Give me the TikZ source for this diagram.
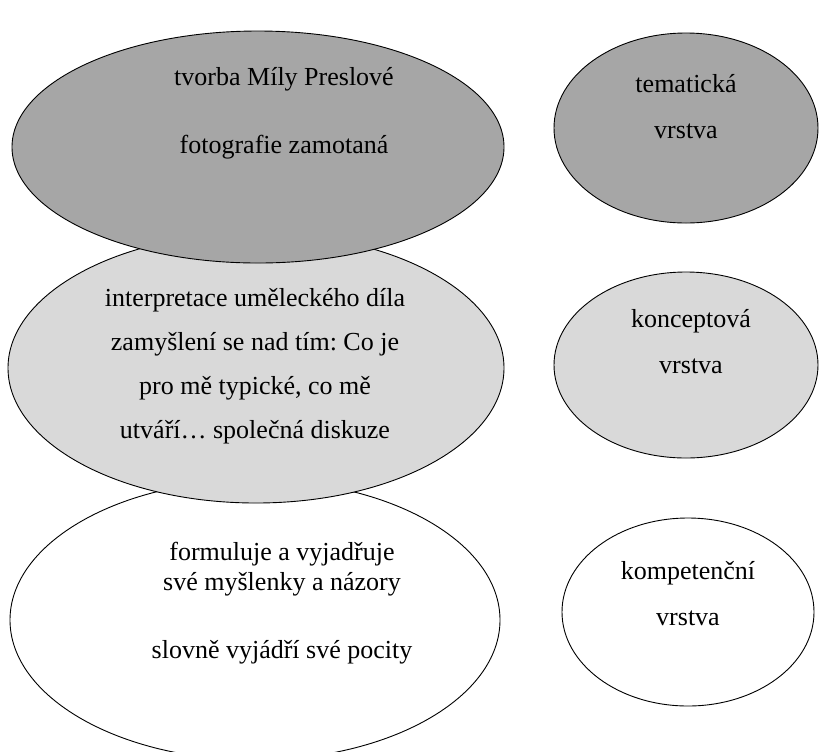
\documentclass[tikz,border=0pt]{standalone}
\usepackage{fontspec}
\setmainfont{Liberation Serif}
\usepackage{xcolor}
\usepackage{tikz}
\usetikzlibrary{shapes.geometric}
\frenchspacing
\definecolor{sedaTmava}{HTML}{A6A6A6}
\definecolor{sedaSvetla}{HTML}{D9D9D9}
\tikzset{
  vrstva/.style={
    ellipse, draw=black, line width=0.45pt, inner sep=0pt, outer sep=0pt},
  vrstvaTmava/.style={vrstva, fill=sedaTmava},
  vrstvaSvetla/.style={vrstva, fill=sedaSvetla},
  vrstvaBila/.style={vrstva, fill=white},
  popisek/.style={align=center, anchor=base, inner sep=0pt,
    font=\fontsize{13}{15}\selectfont}
}
\begin{document}
\begin{tikzpicture}[x=0.5pt, y=-0.5pt]
  \useasboundingbox (0,0) rectangle (819,751);

  % --- Levy sloupec : obsah (kresleno odspodu nahoru)
  \node[vrstvaBila,   minimum width=245pt, minimum height=140pt] (kompetence) at (255,620) {};
  \node[vrstvaSvetla, minimum width=248pt, minimum height=135pt] (koncept)    at (256,368) {};
  \node[vrstvaTmava,  minimum width=246pt, minimum height=116pt] (tema)       at (258,147) {};

  % --- Pravy sloupec : nazvy vrstev
  \node[vrstvaTmava,  minimum width=132pt, minimum height=95pt] (temaVrstva)       at (686,128) {};
  \node[vrstvaSvetla, minimum width=132pt, minimum height=93pt] (konceptVrstva)    at (686,365) {};
  \node[vrstvaBila,   minimum width=126pt, minimum height=94pt] (kompetenceVrstva) at (688,612) {};

  % --- Texty v levych elipsach (kotva = uclaret posledniho radku)
  \node[popisek, font=\fontsize{13}{34}\selectfont] (temaText) at (284,153)
        {tvorba Míly Preslové\\fotografie zamotaná};
  \node[popisek, font=\fontsize{13}{22}\selectfont] (konceptText) at (255,438)
        {interpretace uměleckého díla\\zamyšlení se nad tím: Co je\\pro mě typické, co mě\\utváří… společná diskuze};
  \node[popisek] (kompetenceText) at (282,658)
        {formuluje a vyjadřuje\\své myšlenky a názory\\[19pt]slovně vyjádří své pocity};

  % --- Texty v pravych elipsach
  \node[popisek, font=\fontsize{13}{23}\selectfont] (temaNazev)       at (686,138) {tematická\\vrstva};
  \node[popisek, font=\fontsize{13}{23}\selectfont] (konceptNazev)    at (691,373) {konceptová\\vrstva};
  \node[popisek, font=\fontsize{13}{23}\selectfont] (kompetenceNazev) at (688,625) {kompetenční\\vrstva};

\end{tikzpicture}
\end{document}
